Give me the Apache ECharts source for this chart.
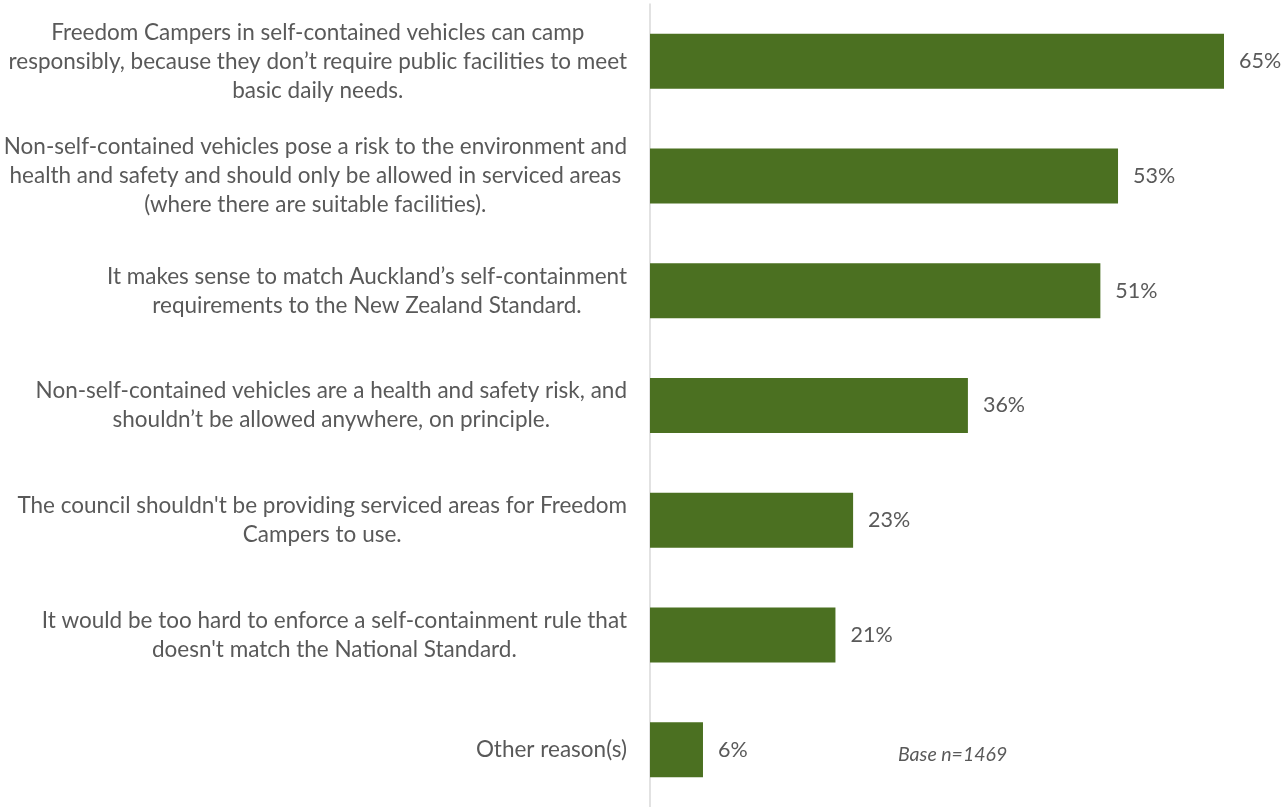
<!DOCTYPE html>
<html>
<head>
<meta charset="utf-8">
<script src="https://cdn.jsdelivr.net/npm/echarts@6/dist/echarts.min.js"></script>
<style>
html,body{margin:0;padding:0;background:#fff;}
#chart{width:1281px;height:807px;}
</style>
</head>
<body>
<div id="chart"></div>
<script>
const categories = [
  "Freedom Campers in self-contained vehicles can camp\nresponsibly, because they don’t require public facilities to meet\nbasic daily needs.",
  "Non-self-contained vehicles pose a risk to the environment and\nhealth and safety and should only be allowed in serviced areas\n(where there are suitable facilities).",
  "It makes sense to match Auckland’s self-containment\nrequirements to the New Zealand Standard.",
  "Non-self-contained vehicles are a health and safety risk, and\nshouldn’t be allowed anywhere, on principle.",
  "The council shouldn't be providing serviced areas for Freedom\nCampers to use.",
  "It would be too hard to enforce a self-containment rule that\ndoesn't match the National Standard.",
  "Other reason(s)"
];
const values = [65, 53, 51, 36, 23, 21, 6];
const baseNote = "Base n=1469";

const FONT = "Lato";
const chart = echarts.init(document.getElementById('chart'));
chart.setOption({
  animation: false,
  backgroundColor: '#ffffff',
  title: {
    text: baseNote,
    left: 893,
    top: 740,
    textStyle: {fontFamily: FONT, fontStyle: 'italic', fontWeight: 'normal', fontSize: 19.5, color: '#595959'}
  },
  grid: {left: 650, right: 57, top: 4, bottom: -4, containLabel: false},
  xAxis: {
    type: 'value', min: 0, max: 65,
    show: false
  },
  yAxis: {
    type: 'category',
    data: categories,
    inverse: true,
    axisLine: {show: true, lineStyle: {color: '#d9d9d9', width: 1.5}},
    axisTick: {show: false},
    axisLabel: {
      margin: 23,
      align: 'right',
      fontFamily: FONT,
      fontSize: 22.5,
      color: '#595959',
      formatter: function (v) {
        return v.split('\n').map(function (l) { return '{c|' + l + '}'; }).join('\n');
      },
      rich: {
        c: {align: 'center', fontFamily: FONT, fontSize: 22.5, color: '#595959', lineHeight: 29}
      }
    }
  },
  series: [{
    type: 'bar',
    data: values,
    barWidth: 55,
    itemStyle: {color: '#4b7021'},
    label: {
      show: true,
      position: 'right',
      distance: 15,
      formatter: '{c}%',
      fontFamily: FONT,
      fontSize: 21.5,
      color: '#595959'
    }
  }]
});
</script>
</body>
</html>
